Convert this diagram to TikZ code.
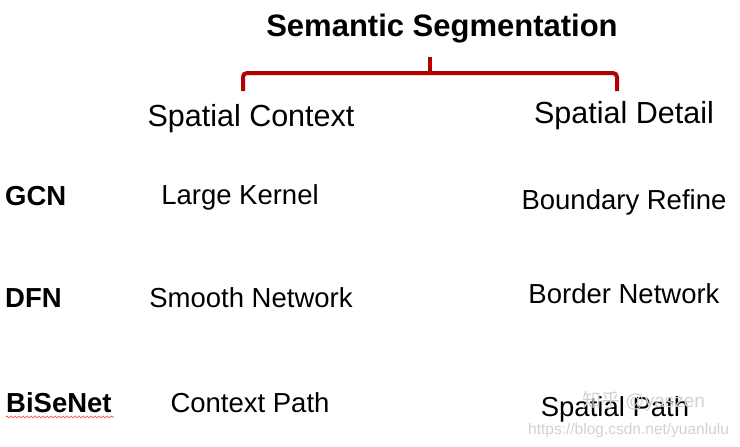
\documentclass[tikz,border=0pt]{standalone}
\usepackage{fontspec}
\setmainfont{Liberation Sans}
\newfontfamily\cjk{Noto Sans CJK SC}
\usetikzlibrary{decorations.pathmorphing}

\begin{document}
\begin{tikzpicture}[x=1pt,y=-1pt]
                        \tikzstyle{title}=[font=\fontsize{31}{34}\selectfont\bfseries, anchor=base]
                        \tikzstyle{head}=[font=\fontsize{30.5}{34}\selectfont, anchor=base]
                        \tikzstyle{net}=[font=\fontsize{27.5}{31}\selectfont\bfseries, anchor=base west, inner sep=0pt]
                        \tikzstyle{cell}=[font=\fontsize{27.5}{31}\selectfont, anchor=base]
                        \tikzstyle{wmark}=[text=black!18, inner sep=0pt, anchor=base west]
                        \useasboundingbox (0,0) rectangle (740,447);
                        % title and bracket
                        \node[title] (seg) at (442,37) {Semantic Segmentation};
                        \draw[red!70!black, line width=4pt, rounded corners=4pt]
                            (243,91) -- (243,73) -- (617,73) -- (617,91);
                        \draw[red!70!black, line width=4pt] (430,73) -- (430,57);
                        % column heads
                        \node[head] (ctx) at (251,126) {Spatial Context};
                        \node[head] (det) at (624,123) {Spatial Detail};
                        % rows
                        \node[net] (gcn) at (5,205) {GCN};
                        \node[net] (dfn) at (5,307) {DFN};
                        \node[net] (bis) at (6,412) {BiSeNet};
                        \node[cell] (lk) at (240,204) {Large Kernel};
                        \node[cell] (sn) at (251,307) {Smooth Network};
                        \node[cell] (cp) at (250,412) {Context Path};
                        \node[cell] (br) at (624,209) {Boundary Refine};
                        \node[cell] (bn) at (624,303) {Border Network};
                        \node[cell] (sp) at (615,416) {Spatial Path};
                        % spell check line
                        \draw[red!80, line width=0.7pt, decorate,
                            decoration={snake, amplitude=1pt, segment length=4pt}]
                            (bis.base west) ++(0,5) -- ++(108,0);
                        % watermark
                        \node[wmark, font=\fontsize{19}{22}\selectfont] (zh) at (582,407) {{\cjk 知乎} @yaszen};
                        \node[wmark, font=\fontsize{15.5}{18}\selectfont] (url) at (528,434) {https://blog.csdn.net/yuanlulu};
                    \end{tikzpicture}
\end{document}
